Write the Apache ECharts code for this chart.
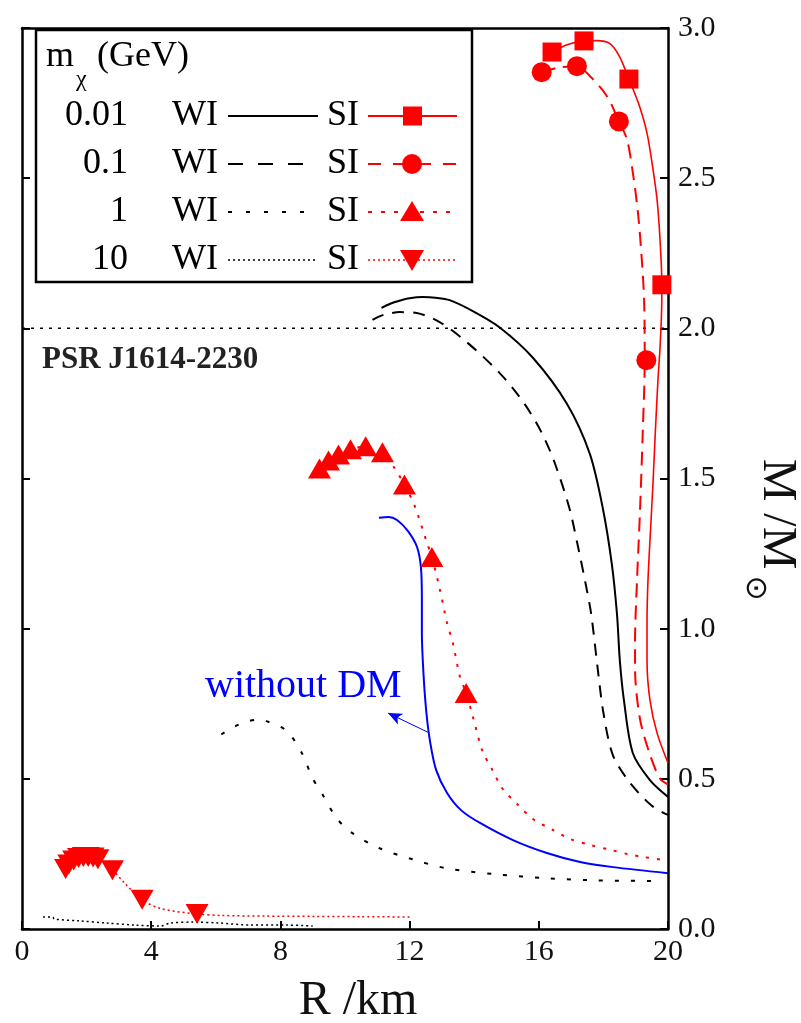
<!DOCTYPE html>
<html>
<head>
<meta charset="utf-8">
<script src="https://cdn.jsdelivr.net/npm/echarts@6/dist/echarts.min.js"></script>
<style>
  html, body { margin: 0; padding: 0; background: #fff; }
  #chart { width: 801px; height: 1023px; }
</style>
</head>
<body>
<div id="chart"></div>
<script>
// tick values
const xTicks = [0, 4, 8, 12, 16, 20];
const yTicks = [0, 0.5, 1.0, 1.5, 2.0, 2.5, 3.0];

// mass of PSR J1614-2230
const psrMass = 2.0;

// WI curves [R km, M/Msun]
const wi001 = [[11.13,2.068],[11.4,2.082],[11.69,2.092],[12.0,2.100],[12.4,2.104],[12.8,2.102],[13.24,2.094],[14.0,2.055],[14.79,2.003],[15.81,1.903],[16.87,1.749],[17.58,1.582],[17.98,1.402],[18.26,1.216],[18.42,1.049],[18.51,0.892],[18.64,0.758],[18.91,0.586],[19.44,0.496],[20.0,0.44]];
const wi01 = [[10.85,2.028],[11.2,2.045],[11.7,2.054],[12.22,2.051],[12.93,2.021],[13.77,1.954],[14.79,1.851],[15.55,1.75],[16.1,1.65],[16.5,1.55],[16.95,1.40],[17.2,1.28],[17.43,1.16],[17.62,1.05],[17.82,0.87],[18.0,0.72],[18.29,0.58],[18.8,0.49],[19.5,0.41],[20.0,0.38]];
const wi1 = [[6.17,0.648],[6.6,0.675],[6.95,0.690],[7.3,0.697],[7.57,0.692],[8.19,0.660],[8.68,0.583],[8.99,0.503],[9.3,0.449],[9.74,0.369],[10.23,0.319],[11.07,0.269],[12.09,0.232],[13.15,0.202],[14.7,0.182],[16.25,0.169],[17.8,0.162],[19.53,0.160]];
const wi10 = [[0.65,0.040],[0.95,0.040],[1.0,0.033],[1.8,0.027],[2.6,0.020],[3.5,0.013],[4.3,0.010],[4.6,0.020],[5.3,0.023],[6.1,0.020],[7.1,0.013],[8.2,0.013],[9.0,0.010]];

// SI curves
const si001 = [[16.41,2.920],[16.9,2.945],[17.4,2.957],[17.8,2.958],[18.2,2.948],[18.5,2.905],[18.79,2.830],[19.1,2.745],[19.35,2.65],[19.52,2.54],[19.66,2.43],[19.75,2.30],[19.81,2.145],[19.80,2.05],[19.75,1.93],[19.69,1.83],[19.61,1.66],[19.54,1.495],[19.46,1.33],[19.38,1.16],[19.35,1.02],[19.35,0.896],[19.44,0.763],[19.66,0.653],[20.0,0.553]];
const si01 = [[16.09,2.853],[16.6,2.868],[17.18,2.873],[17.58,2.840],[18.11,2.773],[18.48,2.689],[18.73,2.629],[18.91,2.519],[19.07,2.385],[19.19,2.228],[19.26,2.095],[19.28,1.894],[19.22,1.66],[19.13,1.383],[19.04,1.159],[18.98,0.959],[18.98,0.868],[19.13,0.701],[19.44,0.581],[19.75,0.501],[20.0,0.481]];
const si1 = [[9.21,1.533],[9.49,1.560],[9.80,1.580],[10.17,1.597],[10.64,1.607],[11.16,1.587],[11.5,1.54],[11.84,1.480],[12.17,1.405],[12.54,1.285],[12.69,1.239],[12.94,1.129],[13.16,1.019],[13.34,0.952],[13.56,0.839],[13.75,0.786],[13.96,0.706],[14.26,0.591],[14.54,0.534],[14.88,0.467],[15.35,0.414],[15.81,0.367],[16.43,0.330],[16.96,0.300],[17.58,0.280],[18.2,0.264],[18.73,0.250],[19.22,0.240],[20.0,0.228]];
const si10 = [[1.35,0.200],[1.45,0.215],[1.6,0.228],[1.75,0.236],[1.9,0.240],[2.05,0.240],[2.2,0.238],[2.35,0.232],[2.8,0.196],[3.2,0.150],[3.72,0.097],[4.3,0.068],[5.42,0.050],[6.2,0.045],[7.5,0.043],[9.0,0.042],[10.5,0.041],[12.0,0.040]];

// SI marker points
const si001Marks = [[16.41,2.920],[17.4,2.957],[18.79,2.830],[19.81,2.145]];
const si01Marks = [[16.09,2.853],[17.18,2.873],[18.48,2.689],[19.33,1.894]];
const si1Marks = [[9.21,1.533],[9.49,1.560],[9.80,1.580],[10.17,1.597],[10.64,1.607],[11.16,1.587],[11.84,1.480],[12.69,1.239],[13.75,0.786]];
const si10Marks = [[1.35,0.200],[1.45,0.215],[1.6,0.228],[1.75,0.236],[1.9,0.240],[2.05,0.240],[2.2,0.238],[2.35,0.232],[2.8,0.196],[3.72,0.097],[5.42,0.050]];

// without dark matter
const noDM = [[11.05,1.369],[11.35,1.372],[11.61,1.362],[11.95,1.325],[12.23,1.272],[12.35,1.205],[12.38,1.10],[12.38,0.986],[12.43,0.85],[12.52,0.72],[12.64,0.62],[12.82,0.53],[13.16,0.453],[13.6,0.395],[14.18,0.353],[15.2,0.296],[16.25,0.253],[17.28,0.223],[18.3,0.206],[20.0,0.186]];
const arrowFrom = [12.57, 0.655];
const arrowTo = [11.33, 0.719];

// legend rows
const massLabels = ['0.01', '0.1', '1', '10'];

var serif = "'Liberation Serif', 'Times New Roman', serif";
var red = '#ff0000';

var dom = document.getElementById('chart');
var myChart = echarts.init(dom);

function curve(name, data, color, width, dash) {
    return {
        name: name,
        type: 'line',
        data: data,
        showSymbol: false,
        smooth: 0.3,
        lineStyle: { color: color, width: width, type: dash || 'solid' },
        z: 3
    };
}

function marks(name, data, symbol, size, rotate) {
    return {
        name: name,
        type: 'scatter',
        data: data,
        symbol: symbol,
        symbolSize: size,
        symbolRotate: rotate || 0,
        itemStyle: { color: red, opacity: 1 },
        z: 5
    };
}

// legend drawn by hand (two columns like the paper figure)
var blackDash = ['solid', [15, 15], [4, 14], [2, 3]];
var redDash = ['solid', [13, 12], [4, 9], [2, 3]];
var legendEls = [
    { type: 'rect', shape: { x: 36, y: 30, width: 436, height: 252 }, style: { fill: '#fff', stroke: '#000', lineWidth: 2.5 }, z: 10 },
    { type: 'text', x: 46, y: 57, style: { text: 'm', font: '36px ' + serif, fill: '#000', align: 'left', verticalAlign: 'middle' }, z: 11 },
    { type: 'text', x: 76, y: 80, style: { text: 'χ', font: '24px ' + serif, fill: '#000', align: 'left', verticalAlign: 'middle' }, z: 11 },
    { type: 'text', x: 97, y: 57, style: { text: '(GeV)', font: '36px ' + serif, fill: '#000', align: 'left', verticalAlign: 'middle' }, z: 11 }
];
for (let i = 0; i < massLabels.length; i++) {
    let y = 116 + 48 * i;
    legendEls.push({ type: 'text', x: 128, y: y, style: { text: massLabels[i], font: '36px ' + serif, fill: '#000', align: 'right', verticalAlign: 'middle' }, z: 11 });
    legendEls.push({ type: 'text', x: 172, y: y, style: { text: 'WI', font: '36px ' + serif, fill: '#000', align: 'left', verticalAlign: 'middle' }, z: 11 });
    legendEls.push({ type: 'text', x: 327, y: y, style: { text: 'SI', font: '36px ' + serif, fill: '#000', align: 'left', verticalAlign: 'middle' }, z: 11 });
    legendEls.push({ type: 'line', shape: { x1: 228, y1: y, x2: 318, y2: y }, style: { stroke: '#000', lineWidth: i === 3 ? 1.5 : 2, lineDash: blackDash[i] === 'solid' ? null : blackDash[i] }, z: 11 });
    legendEls.push({ type: 'line', shape: { x1: 368, y1: y, x2: 457, y2: y }, style: { stroke: red, lineWidth: i === 3 ? 1.5 : 2, lineDash: redDash[i] === 'solid' ? null : redDash[i] }, z: 11 });
}
legendEls.push({ type: 'rect', shape: { x: 403, y: 106.5, width: 19, height: 19 }, style: { fill: red }, z: 12 });
legendEls.push({ type: 'circle', shape: { cx: 412, cy: 164, r: 10 }, style: { fill: red }, z: 12 });
legendEls.push({ type: 'polygon', shape: { points: [[400, 221], [424, 221], [412, 201]] }, style: { fill: red }, z: 12 });
legendEls.push({ type: 'polygon', shape: { points: [[400, 250], [424, 250], [412, 271]] }, style: { fill: red }, z: 12 });

// other texts
var texts = [
    { type: 'text', x: 42, y: 360, style: { text: 'PSR J1614-2230', font: 'bold 31px ' + serif, fill: '#222', align: 'left', verticalAlign: 'middle' }, z: 11 },
    { type: 'text', x: 205, y: 686, style: { text: 'without DM', font: '40px ' + serif, fill: '#0000ff', align: 'left', verticalAlign: 'middle' }, z: 11 },
    { type: 'text', x: 358, y: 1001, style: { text: 'R /km', font: '48px ' + serif, fill: '#111', align: 'center', verticalAlign: 'middle' }, z: 11 },
    { type: 'text', x: 777, y: 514, rotation: -Math.PI / 2, style: { text: 'M /M', font: '48px ' + serif, fill: '#111', align: 'center', verticalAlign: 'middle' }, z: 11 },
    { type: 'text', x: 755, y: 588, rotation: -Math.PI / 2, style: { text: '⊙', font: '30px "DejaVu Sans"', fill: '#111', align: 'center', verticalAlign: 'middle' }, z: 11 }
];

// onZero off, otherwise the value axes jump to the other axis' zero
function axisLine() {
    return { show: true, onZero: false, lineStyle: { color: '#000', width: 2.5 } };
}
function tickIn() {
    return { show: true, inside: true, length: 8, lineStyle: { color: '#000', width: 2 } };
}
var tickFont = { fontSize: 30, fontFamily: serif, color: '#111' };

var option = {
    animation: false,
    backgroundColor: '#fff',
    grid: { left: 22, right: 133, top: 28, bottom: 94 },
    xAxis: [
        {
            type: 'value', position: 'bottom',
            min: xTicks[0], max: xTicks[xTicks.length - 1], interval: xTicks[1] - xTicks[0],
            axisLine: axisLine(), axisTick: tickIn(),
            axisLabel: Object.assign({ margin: 8 }, tickFont),
            splitLine: { show: false }
        },
        {
            type: 'value', position: 'top',
            min: xTicks[0], max: xTicks[xTicks.length - 1], interval: xTicks[1] - xTicks[0],
            axisLine: axisLine(), axisTick: { show: false }, axisLabel: { show: false },
            splitLine: { show: false }
        }
    ],
    yAxis: [
        {
            type: 'value', position: 'right',
            min: yTicks[0], max: yTicks[yTicks.length - 1], interval: yTicks[1] - yTicks[0],
            axisLine: axisLine(), axisTick: tickIn(),
            axisLabel: Object.assign({ margin: 10, formatter: v => v.toFixed(1) }, tickFont),
            splitLine: { show: false }
        },
        {
            type: 'value', position: 'left',
            min: yTicks[0], max: yTicks[yTicks.length - 1], interval: yTicks[1] - yTicks[0],
            axisLine: axisLine(), axisTick: tickIn(), axisLabel: { show: false },
            splitLine: { show: false }
        }
    ],
    graphic: legendEls.concat(texts),
    series: [
        {
            name: 'PSR', type: 'line', data: [[xTicks[0], psrMass], [xTicks[xTicks.length - 1], psrMass]],
            showSymbol: false, lineStyle: { color: '#000', width: 1.5, type: [3, 6] }, z: 2
        },
        curve('WI 0.01', wi001, '#000', 2, 'solid'),
        curve('WI 0.1', wi01, '#000', 2, [12, 9]),
        curve('WI 1', wi1, '#000', 2, [4, 12]),
        curve('WI 10', wi10, '#000', 1.5, [2, 3]),
        curve('SI 0.01', si001, red, 1.6, 'solid'),
        curve('SI 0.1', si01, red, 2, [14, 8]),
        curve('SI 1', si1, red, 2, [3, 8]),
        curve('SI 10', si10, red, 1.5, [2, 3]),
        Object.assign(curve('without DM', noDM, '#0000ff', 2, 'solid'), {
            markLine: {
                silent: true,
                symbol: ['none', 'arrow'],
                symbolSize: [9, 14],
                label: { show: false },
                lineStyle: { color: '#0000ff', width: 1, type: 'solid' },
                data: [[{ coord: arrowFrom }, { coord: arrowTo }]]
            }
        }),
        marks('SI 0.01 marks', si001Marks, 'rect', 19),
        marks('SI 0.1 marks', si01Marks, 'circle', 20),
        marks('SI 1 marks', si1Marks, 'triangle', [23, 20]),
        marks('SI 10 marks', si10Marks, 'triangle', [23, 20], 180)
    ]
};

if (option && typeof option === 'object') {
    myChart.setOption(option);
}
</script>
</body>
</html>
